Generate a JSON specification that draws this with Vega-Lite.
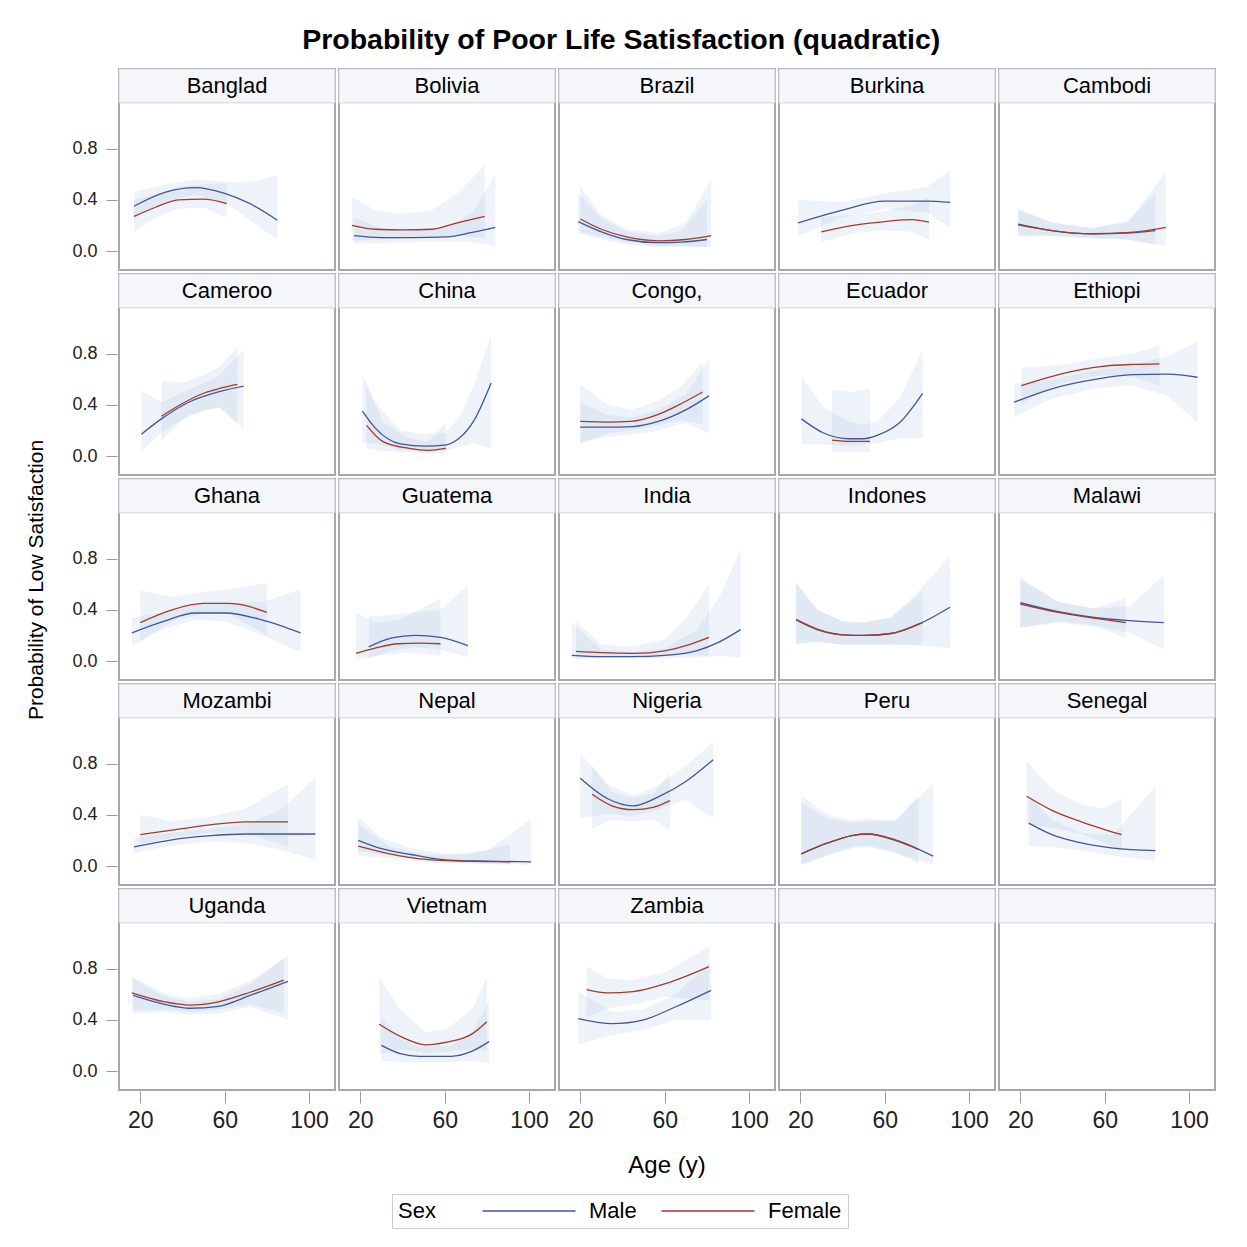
{
  "$schema": "https://vega.github.io/schema/vega-lite/v6.json",
  "background": "white",
  "padding": {"left": 26, "top": 26, "right": 25, "bottom": 10},
  "title": {"text": "Probability of Poor Life Satisfaction (quadratic)", "font": "Liberation Sans", "fontSize": 28.5, "fontWeight": "bold", "color": "#000000", "anchor": "middle", "offset": 12},
  "spacing": 23,
  "hconcat": [
    {
      "width": 22,
      "height": 1022,
      "view": {"stroke": null},
      "data": {"values": [{"t": "Probability of Low Satisfaction"}]},
      "mark": {"type": "text", "angle": 270, "font": "Liberation Sans", "fontSize": 21, "color": "#000000", "baseline": "middle", "align": "center"},
      "encoding": {"text": {"field": "t", "type": "nominal"}}
    },
    {
      "data": {"values": [
        {"country":"Banglad","sex":"Male","age":17,"p":0.35,"lo":0.25,"hi":0.46},
        {"country":"Banglad","sex":"Male","age":32,"p":0.46,"lo":0.39,"hi":0.52},
        {"country":"Banglad","sex":"Male","age":46,"p":0.495,"lo":0.44,"hi":0.56},
        {"country":"Banglad","sex":"Male","age":60,"p":0.45,"lo":0.38,"hi":0.54},
        {"country":"Banglad","sex":"Male","age":72,"p":0.37,"lo":0.24,"hi":0.54},
        {"country":"Banglad","sex":"Male","age":85,"p":0.24,"lo":0.09,"hi":0.59},
        {"country":"Banglad","sex":"Female","age":17,"p":0.27,"lo":0.15,"hi":0.40},
        {"country":"Banglad","sex":"Female","age":27,"p":0.34,"lo":0.26,"hi":0.44},
        {"country":"Banglad","sex":"Female","age":38,"p":0.40,"lo":0.33,"hi":0.50},
        {"country":"Banglad","sex":"Female","age":50,"p":0.405,"lo":0.34,"hi":0.52},
        {"country":"Banglad","sex":"Female","age":61,"p":0.37,"lo":0.26,"hi":0.53},

        {"country":"Bolivia","sex":"Male","age":17,"p":0.12,"lo":0.06,"hi":0.26},
        {"country":"Bolivia","sex":"Male","age":30,"p":0.105,"lo":0.06,"hi":0.18},
        {"country":"Bolivia","sex":"Male","age":45,"p":0.105,"lo":0.07,"hi":0.16},
        {"country":"Bolivia","sex":"Male","age":61,"p":0.11,"lo":0.07,"hi":0.18},
        {"country":"Bolivia","sex":"Male","age":73,"p":0.145,"lo":0.07,"hi":0.30},
        {"country":"Bolivia","sex":"Male","age":84,"p":0.185,"lo":0.04,"hi":0.59},
        {"country":"Bolivia","sex":"Female","age":16,"p":0.20,"lo":0.08,"hi":0.42},
        {"country":"Bolivia","sex":"Female","age":27,"p":0.17,"lo":0.09,"hi":0.32},
        {"country":"Bolivia","sex":"Female","age":40,"p":0.165,"lo":0.10,"hi":0.29},
        {"country":"Bolivia","sex":"Female","age":54,"p":0.17,"lo":0.11,"hi":0.32},
        {"country":"Bolivia","sex":"Female","age":66,"p":0.22,"lo":0.12,"hi":0.45},
        {"country":"Bolivia","sex":"Female","age":79,"p":0.27,"lo":0.10,"hi":0.67},

        {"country":"Brazil","sex":"Male","age":19,"p":0.23,"lo":0.14,"hi":0.45},
        {"country":"Brazil","sex":"Male","age":30,"p":0.15,"lo":0.09,"hi":0.26},
        {"country":"Brazil","sex":"Male","age":42,"p":0.09,"lo":0.05,"hi":0.15},
        {"country":"Brazil","sex":"Male","age":57,"p":0.065,"lo":0.03,"hi":0.12},
        {"country":"Brazil","sex":"Male","age":68,"p":0.07,"lo":0.03,"hi":0.16},
        {"country":"Brazil","sex":"Male","age":80,"p":0.09,"lo":0.03,"hi":0.40},
        {"country":"Brazil","sex":"Female","age":20,"p":0.25,"lo":0.15,"hi":0.50},
        {"country":"Brazil","sex":"Female","age":30,"p":0.17,"lo":0.11,"hi":0.28},
        {"country":"Brazil","sex":"Female","age":42,"p":0.11,"lo":0.07,"hi":0.17},
        {"country":"Brazil","sex":"Female","age":57,"p":0.08,"lo":0.04,"hi":0.14},
        {"country":"Brazil","sex":"Female","age":70,"p":0.09,"lo":0.04,"hi":0.22},
        {"country":"Brazil","sex":"Female","age":82,"p":0.12,"lo":0.03,"hi":0.56},

        {"country":"Burkina","sex":"Male","age":19,"p":0.22,"lo":0.12,"hi":0.40},
        {"country":"Burkina","sex":"Male","age":40,"p":0.32,"lo":0.26,"hi":0.38},
        {"country":"Burkina","sex":"Male","age":60,"p":0.39,"lo":0.33,"hi":0.45},
        {"country":"Burkina","sex":"Male","age":80,"p":0.39,"lo":0.30,"hi":0.50},
        {"country":"Burkina","sex":"Male","age":91,"p":0.38,"lo":0.18,"hi":0.63},
        {"country":"Burkina","sex":"Female","age":30,"p":0.15,"lo":0.07,"hi":0.27},
        {"country":"Burkina","sex":"Female","age":45,"p":0.20,"lo":0.14,"hi":0.28},
        {"country":"Burkina","sex":"Female","age":60,"p":0.23,"lo":0.16,"hi":0.31},
        {"country":"Burkina","sex":"Female","age":73,"p":0.245,"lo":0.15,"hi":0.36},
        {"country":"Burkina","sex":"Female","age":81,"p":0.225,"lo":0.09,"hi":0.42},

        {"country":"Cambodi","sex":"Male","age":19,"p":0.21,"lo":0.12,"hi":0.32},
        {"country":"Cambodi","sex":"Male","age":35,"p":0.16,"lo":0.12,"hi":0.22},
        {"country":"Cambodi","sex":"Male","age":54,"p":0.135,"lo":0.10,"hi":0.18},
        {"country":"Cambodi","sex":"Male","age":70,"p":0.14,"lo":0.09,"hi":0.22},
        {"country":"Cambodi","sex":"Male","age":84,"p":0.16,"lo":0.05,"hi":0.45},
        {"country":"Cambodi","sex":"Female","age":19,"p":0.205,"lo":0.12,"hi":0.33},
        {"country":"Cambodi","sex":"Female","age":35,"p":0.16,"lo":0.12,"hi":0.22},
        {"country":"Cambodi","sex":"Female","age":54,"p":0.135,"lo":0.10,"hi":0.18},
        {"country":"Cambodi","sex":"Female","age":72,"p":0.145,"lo":0.09,"hi":0.24},
        {"country":"Cambodi","sex":"Female","age":89,"p":0.185,"lo":0.04,"hi":0.62},

        {"country":"Cameroo","sex":"Male","age":20.5,"p":0.17,"lo":0.04,"hi":0.51},
        {"country":"Cameroo","sex":"Male","age":30,"p":0.29,"lo":0.18,"hi":0.42},
        {"country":"Cameroo","sex":"Male","age":43,"p":0.42,"lo":0.32,"hi":0.52},
        {"country":"Cameroo","sex":"Male","age":57,"p":0.50,"lo":0.38,"hi":0.62},
        {"country":"Cameroo","sex":"Male","age":69,"p":0.545,"lo":0.21,"hi":0.83},
        {"country":"Cameroo","sex":"Female","age":30,"p":0.31,"lo":0.12,"hi":0.59},
        {"country":"Cameroo","sex":"Female","age":40,"p":0.41,"lo":0.28,"hi":0.57},
        {"country":"Cameroo","sex":"Female","age":50,"p":0.49,"lo":0.36,"hi":0.63},
        {"country":"Cameroo","sex":"Female","age":58,"p":0.53,"lo":0.38,"hi":0.70},
        {"country":"Cameroo","sex":"Female","age":66,"p":0.56,"lo":0.26,"hi":0.85},

        {"country":"China","sex":"Male","age":21,"p":0.35,"lo":0.10,"hi":0.64},
        {"country":"China","sex":"Male","age":27,"p":0.22,"lo":0.10,"hi":0.42},
        {"country":"China","sex":"Male","age":39,"p":0.095,"lo":0.05,"hi":0.20},
        {"country":"China","sex":"Male","age":51,"p":0.077,"lo":0.04,"hi":0.17},
        {"country":"China","sex":"Male","age":60,"p":0.085,"lo":0.04,"hi":0.18},
        {"country":"China","sex":"Male","age":67,"p":0.14,"lo":0.07,"hi":0.30},
        {"country":"China","sex":"Male","age":74,"p":0.28,"lo":0.10,"hi":0.56},
        {"country":"China","sex":"Male","age":82,"p":0.57,"lo":0.06,"hi":0.94},
        {"country":"China","sex":"Female","age":23,"p":0.24,"lo":0.06,"hi":0.55},
        {"country":"China","sex":"Female","age":31,"p":0.11,"lo":0.04,"hi":0.26},
        {"country":"China","sex":"Female","age":43,"p":0.06,"lo":0.03,"hi":0.14},
        {"country":"China","sex":"Female","age":52,"p":0.045,"lo":0.02,"hi":0.11},
        {"country":"China","sex":"Female","age":60.5,"p":0.06,"lo":0.02,"hi":0.26},

        {"country":"Congo,","sex":"Male","age":20,"p":0.225,"lo":0.11,"hi":0.42},
        {"country":"Congo,","sex":"Male","age":33,"p":0.225,"lo":0.15,"hi":0.32},
        {"country":"Congo,","sex":"Male","age":45,"p":0.23,"lo":0.17,"hi":0.30},
        {"country":"Congo,","sex":"Male","age":57,"p":0.27,"lo":0.20,"hi":0.36},
        {"country":"Congo,","sex":"Male","age":70,"p":0.36,"lo":0.26,"hi":0.48},
        {"country":"Congo,","sex":"Male","age":81,"p":0.47,"lo":0.18,"hi":0.76},
        {"country":"Congo,","sex":"Female","age":20,"p":0.27,"lo":0.09,"hi":0.56},
        {"country":"Congo,","sex":"Female","age":33,"p":0.265,"lo":0.18,"hi":0.40},
        {"country":"Congo,","sex":"Female","age":44,"p":0.27,"lo":0.20,"hi":0.36},
        {"country":"Congo,","sex":"Female","age":57,"p":0.325,"lo":0.24,"hi":0.43},
        {"country":"Congo,","sex":"Female","age":68,"p":0.41,"lo":0.28,"hi":0.55},
        {"country":"Congo,","sex":"Female","age":78,"p":0.50,"lo":0.25,"hi":0.73},

        {"country":"Ecuador","sex":"Male","age":20.5,"p":0.29,"lo":0.09,"hi":0.62},
        {"country":"Ecuador","sex":"Male","age":31,"p":0.18,"lo":0.09,"hi":0.38},
        {"country":"Ecuador","sex":"Male","age":43,"p":0.135,"lo":0.08,"hi":0.27},
        {"country":"Ecuador","sex":"Male","age":50,"p":0.135,"lo":0.09,"hi":0.24},
        {"country":"Ecuador","sex":"Male","age":57,"p":0.165,"lo":0.10,"hi":0.28},
        {"country":"Ecuador","sex":"Male","age":67,"p":0.26,"lo":0.14,"hi":0.45},
        {"country":"Ecuador","sex":"Male","age":78,"p":0.49,"lo":0.14,"hi":0.83},
        {"country":"Ecuador","sex":"Female","age":35,"p":0.125,"lo":0.03,"hi":0.52},
        {"country":"Ecuador","sex":"Female","age":44,"p":0.115,"lo":0.03,"hi":0.50},
        {"country":"Ecuador","sex":"Female","age":53,"p":0.115,"lo":0.03,"hi":0.53},

        {"country":"Ethiopi","sex":"Male","age":17,"p":0.42,"lo":0.30,"hi":0.56},
        {"country":"Ethiopi","sex":"Male","age":35,"p":0.525,"lo":0.45,"hi":0.60},
        {"country":"Ethiopi","sex":"Male","age":56,"p":0.60,"lo":0.53,"hi":0.67},
        {"country":"Ethiopi","sex":"Male","age":73,"p":0.635,"lo":0.55,"hi":0.71},
        {"country":"Ethiopi","sex":"Male","age":90,"p":0.64,"lo":0.47,"hi":0.78},
        {"country":"Ethiopi","sex":"Male","age":104,"p":0.615,"lo":0.26,"hi":0.89},
        {"country":"Ethiopi","sex":"Female","age":20.5,"p":0.55,"lo":0.41,"hi":0.69},
        {"country":"Ethiopi","sex":"Female","age":39,"p":0.64,"lo":0.57,"hi":0.71},
        {"country":"Ethiopi","sex":"Female","age":59,"p":0.70,"lo":0.63,"hi":0.77},
        {"country":"Ethiopi","sex":"Female","age":73,"p":0.715,"lo":0.62,"hi":0.80},
        {"country":"Ethiopi","sex":"Female","age":86,"p":0.72,"lo":0.55,"hi":0.86},

        {"country":"Ghana","sex":"Male","age":16,"p":0.22,"lo":0.12,"hi":0.34},
        {"country":"Ghana","sex":"Male","age":31,"p":0.31,"lo":0.25,"hi":0.38},
        {"country":"Ghana","sex":"Male","age":46,"p":0.375,"lo":0.32,"hi":0.44},
        {"country":"Ghana","sex":"Male","age":60,"p":0.375,"lo":0.31,"hi":0.45},
        {"country":"Ghana","sex":"Male","age":78,"p":0.32,"lo":0.20,"hi":0.46},
        {"country":"Ghana","sex":"Male","age":96,"p":0.22,"lo":0.07,"hi":0.56},
        {"country":"Ghana","sex":"Female","age":20,"p":0.30,"lo":0.16,"hi":0.55},
        {"country":"Ghana","sex":"Female","age":35,"p":0.40,"lo":0.31,"hi":0.50},
        {"country":"Ghana","sex":"Female","age":50,"p":0.45,"lo":0.37,"hi":0.54},
        {"country":"Ghana","sex":"Female","age":62,"p":0.45,"lo":0.37,"hi":0.56},
        {"country":"Ghana","sex":"Female","age":80,"p":0.38,"lo":0.20,"hi":0.61},

        {"country":"Guatema","sex":"Male","age":24,"p":0.11,"lo":0.02,"hi":0.35},
        {"country":"Guatema","sex":"Male","age":35,"p":0.18,"lo":0.08,"hi":0.36},
        {"country":"Guatema","sex":"Male","age":46,"p":0.20,"lo":0.11,"hi":0.38},
        {"country":"Guatema","sex":"Male","age":58,"p":0.185,"lo":0.09,"hi":0.40},
        {"country":"Guatema","sex":"Male","age":71,"p":0.12,"lo":0.03,"hi":0.59},
        {"country":"Guatema","sex":"Female","age":18,"p":0.06,"lo":0.01,"hi":0.38},
        {"country":"Guatema","sex":"Female","age":27,"p":0.10,"lo":0.04,"hi":0.30},
        {"country":"Guatema","sex":"Female","age":38,"p":0.135,"lo":0.06,"hi":0.32},
        {"country":"Guatema","sex":"Female","age":48,"p":0.14,"lo":0.06,"hi":0.40},
        {"country":"Guatema","sex":"Female","age":58,"p":0.135,"lo":0.04,"hi":0.49},

        {"country":"India","sex":"Male","age":16,"p":0.045,"lo":0.02,"hi":0.30},
        {"country":"India","sex":"Male","age":30,"p":0.035,"lo":0.02,"hi":0.09},
        {"country":"India","sex":"Male","age":45,"p":0.035,"lo":0.02,"hi":0.07},
        {"country":"India","sex":"Male","age":60,"p":0.045,"lo":0.02,"hi":0.10},
        {"country":"India","sex":"Male","age":75,"p":0.08,"lo":0.03,"hi":0.24},
        {"country":"India","sex":"Male","age":86,"p":0.15,"lo":0.04,"hi":0.50},
        {"country":"India","sex":"Male","age":96,"p":0.245,"lo":0.03,"hi":0.87},
        {"country":"India","sex":"Female","age":18,"p":0.075,"lo":0.02,"hi":0.31},
        {"country":"India","sex":"Female","age":30,"p":0.065,"lo":0.03,"hi":0.13},
        {"country":"India","sex":"Female","age":45,"p":0.06,"lo":0.03,"hi":0.11},
        {"country":"India","sex":"Female","age":60,"p":0.08,"lo":0.04,"hi":0.17},
        {"country":"India","sex":"Female","age":70,"p":0.12,"lo":0.05,"hi":0.33},
        {"country":"India","sex":"Female","age":81,"p":0.185,"lo":0.04,"hi":0.60},

        {"country":"Indones","sex":"Male","age":18,"p":0.32,"lo":0.14,"hi":0.60},
        {"country":"Indones","sex":"Male","age":28,"p":0.245,"lo":0.15,"hi":0.40},
        {"country":"Indones","sex":"Male","age":40,"p":0.205,"lo":0.13,"hi":0.31},
        {"country":"Indones","sex":"Male","age":50,"p":0.20,"lo":0.13,"hi":0.30},
        {"country":"Indones","sex":"Male","age":63,"p":0.215,"lo":0.13,"hi":0.34},
        {"country":"Indones","sex":"Male","age":77,"p":0.295,"lo":0.12,"hi":0.56},
        {"country":"Indones","sex":"Male","age":91,"p":0.42,"lo":0.10,"hi":0.82},
        {"country":"Indones","sex":"Female","age":18,"p":0.325,"lo":0.13,"hi":0.62},
        {"country":"Indones","sex":"Female","age":28,"p":0.25,"lo":0.15,"hi":0.40},
        {"country":"Indones","sex":"Female","age":40,"p":0.205,"lo":0.13,"hi":0.31},
        {"country":"Indones","sex":"Female","age":50,"p":0.20,"lo":0.13,"hi":0.30},
        {"country":"Indones","sex":"Female","age":63,"p":0.215,"lo":0.13,"hi":0.34},
        {"country":"Indones","sex":"Female","age":78,"p":0.30,"lo":0.13,"hi":0.54},

        {"country":"Malawi","sex":"Male","age":20,"p":0.455,"lo":0.26,"hi":0.65},
        {"country":"Malawi","sex":"Male","age":38,"p":0.385,"lo":0.31,"hi":0.46},
        {"country":"Malawi","sex":"Male","age":55,"p":0.34,"lo":0.28,"hi":0.41},
        {"country":"Malawi","sex":"Male","age":72,"p":0.315,"lo":0.22,"hi":0.43},
        {"country":"Malawi","sex":"Male","age":88,"p":0.30,"lo":0.09,"hi":0.67},
        {"country":"Malawi","sex":"Female","age":20,"p":0.445,"lo":0.26,"hi":0.64},
        {"country":"Malawi","sex":"Female","age":38,"p":0.38,"lo":0.30,"hi":0.46},
        {"country":"Malawi","sex":"Female","age":55,"p":0.335,"lo":0.27,"hi":0.41},
        {"country":"Malawi","sex":"Female","age":70,"p":0.30,"lo":0.18,"hi":0.49},

        {"country":"Mozambi","sex":"Male","age":17,"p":0.15,"lo":0.10,"hi":0.22},
        {"country":"Mozambi","sex":"Male","age":35,"p":0.205,"lo":0.16,"hi":0.26},
        {"country":"Mozambi","sex":"Male","age":52,"p":0.235,"lo":0.19,"hi":0.29},
        {"country":"Mozambi","sex":"Male","age":70,"p":0.25,"lo":0.18,"hi":0.33},
        {"country":"Mozambi","sex":"Male","age":86,"p":0.25,"lo":0.13,"hi":0.43},
        {"country":"Mozambi","sex":"Male","age":103,"p":0.25,"lo":0.05,"hi":0.69},
        {"country":"Mozambi","sex":"Female","age":20,"p":0.245,"lo":0.17,"hi":0.40},
        {"country":"Mozambi","sex":"Female","age":35,"p":0.28,"lo":0.22,"hi":0.35},
        {"country":"Mozambi","sex":"Female","age":52,"p":0.32,"lo":0.26,"hi":0.38},
        {"country":"Mozambi","sex":"Female","age":70,"p":0.345,"lo":0.26,"hi":0.45},
        {"country":"Mozambi","sex":"Female","age":90,"p":0.345,"lo":0.15,"hi":0.64},

        {"country":"Nepal","sex":"Male","age":19,"p":0.20,"lo":0.12,"hi":0.38},
        {"country":"Nepal","sex":"Male","age":30,"p":0.135,"lo":0.09,"hi":0.22},
        {"country":"Nepal","sex":"Male","age":44,"p":0.09,"lo":0.06,"hi":0.14},
        {"country":"Nepal","sex":"Male","age":62,"p":0.046,"lo":0.03,"hi":0.09},
        {"country":"Nepal","sex":"Male","age":80,"p":0.038,"lo":0.02,"hi":0.12},
        {"country":"Nepal","sex":"Male","age":101,"p":0.033,"lo":0.01,"hi":0.37},
        {"country":"Nepal","sex":"Female","age":19,"p":0.155,"lo":0.08,"hi":0.33},
        {"country":"Nepal","sex":"Female","age":34,"p":0.095,"lo":0.06,"hi":0.15},
        {"country":"Nepal","sex":"Female","age":51,"p":0.052,"lo":0.03,"hi":0.09},
        {"country":"Nepal","sex":"Female","age":70,"p":0.038,"lo":0.02,"hi":0.09},
        {"country":"Nepal","sex":"Female","age":91,"p":0.033,"lo":0.01,"hi":0.17},

        {"country":"Nigeria","sex":"Male","age":20,"p":0.685,"lo":0.37,"hi":0.88},
        {"country":"Nigeria","sex":"Male","age":33,"p":0.525,"lo":0.41,"hi":0.64},
        {"country":"Nigeria","sex":"Male","age":45,"p":0.47,"lo":0.39,"hi":0.55},
        {"country":"Nigeria","sex":"Male","age":57,"p":0.54,"lo":0.44,"hi":0.63},
        {"country":"Nigeria","sex":"Male","age":70,"p":0.66,"lo":0.52,"hi":0.78},
        {"country":"Nigeria","sex":"Male","age":83,"p":0.83,"lo":0.37,"hi":0.97},
        {"country":"Nigeria","sex":"Female","age":25.6,"p":0.56,"lo":0.29,"hi":0.78},
        {"country":"Nigeria","sex":"Female","age":35,"p":0.47,"lo":0.36,"hi":0.58},
        {"country":"Nigeria","sex":"Female","age":45,"p":0.44,"lo":0.35,"hi":0.53},
        {"country":"Nigeria","sex":"Female","age":55,"p":0.46,"lo":0.36,"hi":0.57},
        {"country":"Nigeria","sex":"Female","age":62.5,"p":0.51,"lo":0.28,"hi":0.73},

        {"country":"Peru","sex":"Male","age":20.5,"p":0.095,"lo":0.01,"hi":0.55},
        {"country":"Peru","sex":"Male","age":33,"p":0.18,"lo":0.08,"hi":0.40},
        {"country":"Peru","sex":"Male","age":45,"p":0.24,"lo":0.14,"hi":0.36},
        {"country":"Peru","sex":"Male","age":52,"p":0.25,"lo":0.15,"hi":0.37},
        {"country":"Peru","sex":"Male","age":65,"p":0.205,"lo":0.10,"hi":0.36},
        {"country":"Peru","sex":"Male","age":83,"p":0.077,"lo":0.01,"hi":0.64},
        {"country":"Peru","sex":"Female","age":20.5,"p":0.095,"lo":0.01,"hi":0.50},
        {"country":"Peru","sex":"Female","age":33,"p":0.18,"lo":0.09,"hi":0.37},
        {"country":"Peru","sex":"Female","age":45,"p":0.24,"lo":0.15,"hi":0.34},
        {"country":"Peru","sex":"Female","age":52,"p":0.25,"lo":0.16,"hi":0.35},
        {"country":"Peru","sex":"Female","age":65,"p":0.20,"lo":0.11,"hi":0.35},
        {"country":"Peru","sex":"Female","age":76,"p":0.13,"lo":0.02,"hi":0.55},

        {"country":"Senegal","sex":"Male","age":24,"p":0.335,"lo":0.15,"hi":0.55},
        {"country":"Senegal","sex":"Male","age":35,"p":0.245,"lo":0.15,"hi":0.36},
        {"country":"Senegal","sex":"Male","age":49,"p":0.18,"lo":0.12,"hi":0.26},
        {"country":"Senegal","sex":"Male","age":64,"p":0.14,"lo":0.08,"hi":0.24},
        {"country":"Senegal","sex":"Male","age":84,"p":0.12,"lo":0.04,"hi":0.62},
        {"country":"Senegal","sex":"Female","age":23,"p":0.545,"lo":0.32,"hi":0.82},
        {"country":"Senegal","sex":"Female","age":35,"p":0.435,"lo":0.30,"hi":0.60},
        {"country":"Senegal","sex":"Female","age":49,"p":0.345,"lo":0.25,"hi":0.48},
        {"country":"Senegal","sex":"Female","age":60,"p":0.285,"lo":0.18,"hi":0.45},
        {"country":"Senegal","sex":"Female","age":68,"p":0.245,"lo":0.12,"hi":0.53},

        {"country":"Uganda","sex":"Male","age":16.6,"p":0.59,"lo":0.45,"hi":0.72},
        {"country":"Uganda","sex":"Male","age":31.6,"p":0.52,"lo":0.46,"hi":0.58},
        {"country":"Uganda","sex":"Male","age":43.5,"p":0.49,"lo":0.44,"hi":0.54},
        {"country":"Uganda","sex":"Male","age":57,"p":0.505,"lo":0.45,"hi":0.56},
        {"country":"Uganda","sex":"Male","age":72,"p":0.59,"lo":0.50,"hi":0.68},
        {"country":"Uganda","sex":"Male","age":90,"p":0.70,"lo":0.40,"hi":0.90},
        {"country":"Uganda","sex":"Female","age":16,"p":0.61,"lo":0.47,"hi":0.74},
        {"country":"Uganda","sex":"Female","age":31.6,"p":0.54,"lo":0.48,"hi":0.60},
        {"country":"Uganda","sex":"Female","age":43.5,"p":0.515,"lo":0.46,"hi":0.57},
        {"country":"Uganda","sex":"Female","age":57,"p":0.54,"lo":0.48,"hi":0.60},
        {"country":"Uganda","sex":"Female","age":72,"p":0.615,"lo":0.52,"hi":0.70},
        {"country":"Uganda","sex":"Female","age":88,"p":0.71,"lo":0.45,"hi":0.88},

        {"country":"Vietnam","sex":"Male","age":30,"p":0.20,"lo":0.08,"hi":0.42},
        {"country":"Vietnam","sex":"Male","age":39,"p":0.135,"lo":0.07,"hi":0.25},
        {"country":"Vietnam","sex":"Male","age":48,"p":0.115,"lo":0.07,"hi":0.19},
        {"country":"Vietnam","sex":"Male","age":63,"p":0.115,"lo":0.07,"hi":0.20},
        {"country":"Vietnam","sex":"Male","age":73,"p":0.155,"lo":0.08,"hi":0.30},
        {"country":"Vietnam","sex":"Male","age":81,"p":0.23,"lo":0.06,"hi":0.55},
        {"country":"Vietnam","sex":"Female","age":29,"p":0.365,"lo":0.13,"hi":0.73},
        {"country":"Vietnam","sex":"Female","age":39,"p":0.27,"lo":0.17,"hi":0.48},
        {"country":"Vietnam","sex":"Female","age":51,"p":0.205,"lo":0.14,"hi":0.30},
        {"country":"Vietnam","sex":"Female","age":61,"p":0.225,"lo":0.15,"hi":0.33},
        {"country":"Vietnam","sex":"Female","age":73,"p":0.29,"lo":0.17,"hi":0.48},
        {"country":"Vietnam","sex":"Female","age":80,"p":0.385,"lo":0.15,"hi":0.73},

        {"country":"Zambia","sex":"Male","age":19,"p":0.41,"lo":0.21,"hi":0.62},
        {"country":"Zambia","sex":"Male","age":35,"p":0.37,"lo":0.28,"hi":0.46},
        {"country":"Zambia","sex":"Male","age":50,"p":0.40,"lo":0.32,"hi":0.48},
        {"country":"Zambia","sex":"Male","age":65,"p":0.50,"lo":0.40,"hi":0.60},
        {"country":"Zambia","sex":"Male","age":82,"p":0.63,"lo":0.40,"hi":0.85},
        {"country":"Zambia","sex":"Female","age":23,"p":0.635,"lo":0.42,"hi":0.82},
        {"country":"Zambia","sex":"Female","age":33,"p":0.61,"lo":0.49,"hi":0.72},
        {"country":"Zambia","sex":"Female","age":45,"p":0.62,"lo":0.52,"hi":0.71},
        {"country":"Zambia","sex":"Female","age":60,"p":0.68,"lo":0.58,"hi":0.77},
        {"country":"Zambia","sex":"Female","age":81,"p":0.815,"lo":0.55,"hi":0.97},

        {"country":"zz1","sex":"Male","age":null,"p":null,"lo":null,"hi":null},
        {"country":"zz2","sex":"Male","age":null,"p":null,"lo":null,"hi":null}
      ]},
      "facet": {"field": "country", "type": "nominal", "title": "Age (y)",
        "header": {"labelExpr": "''", "labelFontSize": 1, "labelPadding": 0, "titleOrient": "bottom", "titleFont": "Liberation Sans", "titleFontSize": 24, "titleFontWeight": "normal", "titleColor": "#000000", "titlePadding": 22}},
      "columns": 5,
      "spacing": {"row": 0, "column": 0},
      "spec": {
        "width": 216,
        "height": 201,
        "layer": [
          {"transform": [{"aggregate": [{"op": "count", "as": "n"}], "groupby": ["country"]}],
           "mark": {"type": "rect", "fill": "#f4f6fa", "stroke": "#cfd3d8", "strokeWidth": 1},
           "encoding": {
             "x": {"datum": 9.9, "type": "quantitative", "title": null},
             "x2": {"datum": 112.3},
             "y": {"datum": 1.157, "type": "quantitative", "title": null},
             "y2": {"datum": 1.421}
           }},
          {"mark": {"type": "area", "fill": "#78a0d2", "fillOpacity": 0.13, "strokeWidth": 0},
           "encoding": {
             "x": {"field": "age", "type": "quantitative", "title": null},
             "y": {"field": "lo", "type": "quantitative", "title": null},
             "y2": {"field": "hi"},
             "detail": {"field": "sex"}
           }},
          {"mark": {"type": "line", "strokeWidth": 1.3, "interpolate": "monotone"},
           "encoding": {
             "x": {"field": "age", "type": "quantitative", "title": null,
                   "scale": {"domain": [9.9, 112.3], "nice": false, "zero": false},
                   "axis": {"values": [20, 60, 100], "grid": false, "domain": false, "title": null, "labelFontSize": 23, "tickSize": 12, "labelPadding": 6}},
             "y": {"field": "p", "type": "quantitative", "title": null,
                   "scale": {"domain": [-0.148, 1.421], "nice": false, "zero": false},
                   "axis": {"values": [0, 0.4, 0.8], "format": ".1f", "grid": false, "domain": false, "title": null, "labelFontSize": 18, "tickSize": 11, "labelPadding": 9}},
             "color": {"field": "sex", "type": "nominal",
                       "scale": {"domain": ["Male", "Female"], "range": ["#445694", "#A23A2E"]},
                       "legend": {"title": "Sex", "orient": "none", "legendX": 366, "legendY": 1125, "direction": "horizontal", "titleOrient": "left", "titleBaseline": "middle", "symbolType": "M-5,0H5", "symbolSize": 346, "symbolStrokeWidth": 1.5, "labelFontSize": 22, "labelFont": "Liberation Sans", "titleFontSize": 22, "titleFont": "Liberation Sans", "titleFontWeight": "normal", "titleColor": "#000000", "labelColor": "#000000", "strokeColor": "#cccccc", "padding": 6, "columnPadding": 21, "titlePadding": 82, "labelOffset": 49}}
           }},
          {"transform": [{"aggregate": [{"op": "count", "as": "n"}], "groupby": ["country"]}, {"filter": "indexof(datum.country, 'zz') != 0"}],
           "mark": {"type": "text", "font": "Liberation Sans", "fontSize": 22, "color": "#000000", "baseline": "middle", "align": "center"},
           "encoding": {
             "x": {"datum": 61.1, "type": "quantitative", "title": null},
             "y": {"datum": 1.285, "type": "quantitative", "title": null},
             "text": {"field": "country", "type": "nominal"}
           }}
        ]
      }
    }
  ],
  "config": {
    "font": "Liberation Sans",
    "view": {"stroke": "#a5a9ae", "strokeWidth": 2},
    "axis": {"labelFont": "Liberation Sans", "labelColor": "#222222", "tickColor": "#9a9a9a"}
  }
}
